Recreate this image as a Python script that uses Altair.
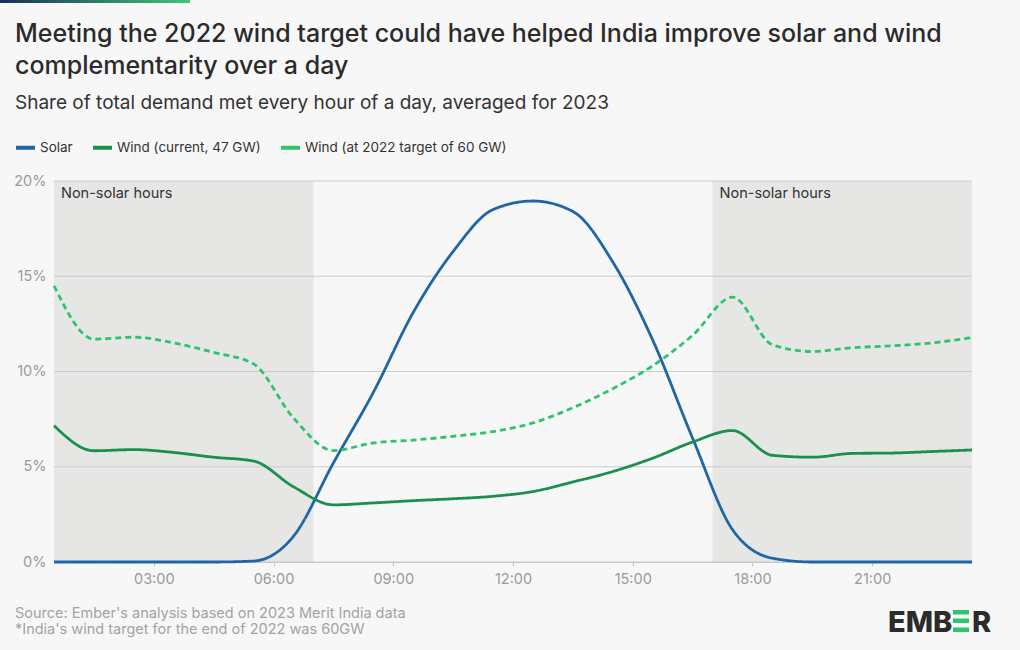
import altair as alt
import pandas as pd

# ---------------- data ----------------
hours = [0.5 + i for i in range(24)]
solar = [0, 0, 0, 0, 0, 0.05, 1.35, 5.2, 8.9, 13.1, 16.3, 18.5,
         18.95, 18.4, 15.75, 11.65, 6.5, 1.7, 0.2, 0, 0, 0, 0, 0]
wind_current = [7.16, 5.84, 5.9, 5.75, 5.5, 5.3, 3.95, 3.0, 3.1, 3.22, 3.32, 3.45,
                3.7, 4.2, 4.75, 5.45, 6.3, 6.9, 5.6, 5.5, 5.7, 5.72, 5.8, 5.88]
wind_target = [14.5, 11.7, 11.8, 11.5, 11.0, 10.4, 7.56, 5.85, 6.25, 6.4, 6.6, 6.85,
               7.3, 8.1, 9.1, 10.3, 11.9, 13.9, 11.4, 11.05, 11.25, 11.35, 11.5, 11.78]

series_names = ["Solar", "Wind (current, 47 GW)", "Wind (at 2022 target of 60 GW)"]
series_colors = ["#2065a5", "#1b8f4e", "#2ec46f"]
series_styles = ["solid", "solid", "dashed"]
style_names = ["solid", "dashed"]
style_dash = [[1, 0], [6, 4]]

shade_start = [0.5, 17]
shade_end = [7, 23.5]
shade_label = ["Non-solar hours", "Non-solar hours"]

y_ticks = [0, 5, 10, 15, 20]
x_ticks = [3, 6, 9, 12, 15, 18, 21]

title_text = ("Meeting the 2022 wind target could have helped India improve solar and wind\n"
              "complementarity over a day")
subtitle_text = "Share of total demand met every hour of a day, averaged for 2023"
source_text = ("Source: Ember's analysis based on 2023 Merit India data\n"
               "*India's wind target for the end of 2022 was 60GW")

# ---------------- tables ----------------
rows = []
for name, style, vals in zip(series_names, series_styles, [solar, wind_current, wind_target]):
    for h, v in zip(hours, vals):
        rows.append({"hour": h, "value": v, "series": name, "style": style})
lines_df = pd.DataFrame(rows)
shade_df = pd.DataFrame({"start": shade_start, "end": shade_end, "label": shade_label})
grid_df = pd.DataFrame({"v": y_ticks})

W, H = 918, 381
FONT = "Inter"

xscale = alt.Scale(domain=[0.5, 23.5], nice=False, zero=False)
yscale = alt.Scale(domain=[0, 20], nice=False)

x_axis = alt.Axis(values=x_ticks,
                  labelExpr="(datum.value < 10 ? '0' : '') + datum.value + ':00'",
                  grid=False, domainColor="#c4c4c4", tickColor="#c4c4c4", tickSize=4,
                  labelColor="#9a9a9a", labelFontSize=14.5, labelFont=FONT, labelPadding=6,
                  title=None, labelFlush=False)
y_axis = alt.Axis(values=y_ticks, labelExpr="datum.value + '%'", grid=False, domain=False,
                  ticks=False, labelColor="#9a9a9a", labelFontSize=14.5, labelFont=FONT,
                  labelPadding=8, title=None)

shade = alt.Chart(shade_df).mark_rect(color="#e6e6e5").encode(
    x=alt.X("start:Q", scale=xscale, axis=x_axis),
    x2="end:Q",
    y=alt.value(0),
    y2=alt.value(H),
)
shade_text = alt.Chart(shade_df).mark_text(
    align="left", baseline="middle", dx=7, fontSize=14.5, font=FONT, color="#333333"
).encode(x=alt.X("start:Q", scale=xscale, axis=x_axis), y=alt.value(13), text="label:N")

grid = alt.Chart(grid_df).mark_rule(color="#cccccc", strokeWidth=1).encode(
    y=alt.Y("v:Q", scale=yscale, axis=y_axis)
)

lines = alt.Chart(lines_df).mark_line(strokeWidth=2.8, interpolate="monotone").encode(
    x=alt.X("hour:Q", scale=xscale, axis=x_axis),
    y=alt.Y("value:Q", scale=yscale, axis=y_axis),
    color=alt.Color("series:N", sort=series_names,
                    scale=alt.Scale(domain=series_names, range=series_colors),
                    legend=alt.Legend(orient="none", legendX=-40, legendY=-45,
                                      direction="horizontal", title=None,
                                      symbolType="stroke", symbolStrokeWidth=4,
                                      symbolSize=360, labelFontSize=13.5, labelFont=FONT,
                                      labelColor="#333333", labelOffset=3, labelLimit=400,
                                      columnPadding=12)),
    strokeDash=alt.StrokeDash("style:N",
                              scale=alt.Scale(domain=style_names, range=style_dash),
                              legend=None),
    detail="series:N",
    order=alt.Order("hour:Q"),
)

def text_layer(txt, x, y, size, color, weight="normal", lh=None, align="left"):
    kw = dict(align=align, baseline="alphabetic", fontSize=size, font=FONT,
              color=color, fontWeight=weight, lineBreak="\n")
    if lh:
        kw["lineHeight"] = lh
    return alt.Chart(pd.DataFrame({"t": [txt]})).mark_text(**kw).encode(
        x=alt.value(x), y=alt.value(y), text="t:N")

title = text_layer(title_text, -39, -139, 25, "#2b2b2b", weight=500, lh=32)
subtitle = text_layer(subtitle_text, -39, -72, 19, "#333333")
source = text_layer(source_text, -39, 437, 14.5, "#a3a3a3", lh=16)

bar = alt.Chart(pd.DataFrame({"a": [0]})).mark_rect(
    color=alt.Gradient(gradient="linear",
                       stops=[alt.GradientStop(color="#1d2d5c", offset=0),
                              alt.GradientStop(color="#3fc777", offset=1)],
                       x1=0, x2=1, y1=0, y2=0)
).encode(x=alt.value(-54), x2=alt.value(136), y=alt.value(-181), y2=alt.value(-178))

logo_emb = text_layer("EMB", 834, 451, 29, "#2b2b2b", weight=800)
logo_r = text_layer("R", 918, 451, 29, "#2b2b2b", weight=800)
logo_bars = [
    alt.Chart(pd.DataFrame({"a": [0]})).mark_rect(color="#2ec46f").encode(
        x=alt.value(899), x2=alt.value(915), y=alt.value(yy), y2=alt.value(yy + 4.5))
    for yy in (429, 437.5, 446.5)
]

chart = alt.layer(shade, grid, shade_text, lines, title, subtitle, source, bar,
                  logo_emb, logo_r, *logo_bars).properties(
    width=W, height=H,
    autosize=alt.AutoSizeParams(type="none"),
    padding={"left": 54, "top": 181, "right": 48, "bottom": 88},
    background="#f7f7f7",
).configure_view(stroke=None)

chart.save("out.html", embed_options={"renderer": "svg", "actions": False})
